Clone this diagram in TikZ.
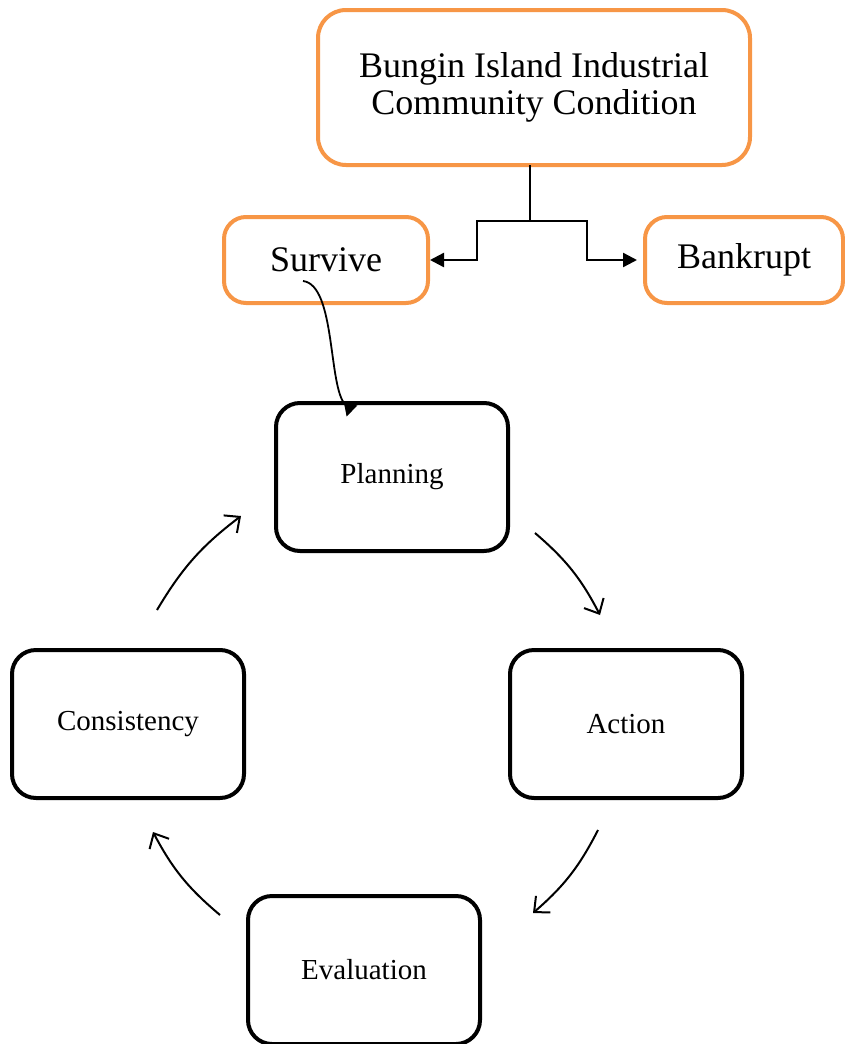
\documentclass[tikz,border=0pt]{standalone}
\usepackage{fontspec}
\setmainfont{Liberation Serif}
\usetikzlibrary{arrows.meta}
\definecolor{boxorange}{HTML}{F79646}
\begin{document}
\begin{tikzpicture}[x=1pt,y=-1pt,
  obox/.style={draw=boxorange,line width=4pt,rounded corners=22pt,fill=white,align=center,inner sep=0pt},
  kbox/.style={draw=black,line width=4pt,rounded corners=24pt,minimum width=232pt,minimum height=148pt,inner sep=0pt,font=\fontsize{29}{33}\selectfont},
  conn/.style={line width=2.4pt,-{Triangle[length=14pt,width=14pt]}},
  cyc/.style={line width=2pt,-{Straight Barb[length=12pt,width=22pt,line width=2pt]}}]
\useasboundingbox (0,0) rectangle (845,1044);
\clip (0,0) rectangle (845,1044);
\node[obox,minimum width=432pt,minimum height=155pt,rounded corners=28pt,font=\fontsize{36}{37}\selectfont] (top) at (534,87.5) {Bungin Island Industrial\\Community Condition};
\node[obox,minimum width=204pt,minimum height=86pt,font=\fontsize{36}{37}\selectfont] (survive) at (326,260) {Survive};
\node[obox,minimum width=198pt,minimum height=86pt,font=\fontsize{36}{37}\selectfont] (bankrupt) at (744,260) {Bankrupt};
\node[kbox] (planning) at (392,477) {Planning};
\node[kbox] (action) at (626,724) {Action};
\node[kbox] (consistency) at (128,724) {Consistency};
\node[kbox] (evaluation) at (364,970) {Evaluation};
% split connector
\coordinate (j) at (530,221);
\coordinate (jt) at (530,165);
\draw[line width=2pt] (jt) -- (j);
\draw[conn] (j) -- (477,221) |- (survive.east);
\draw[conn,shorten >=6pt] (j) -- (587,221) |- (bankrupt.west);
% survive to planning
\coordinate (s0) at (303,281);
\coordinate (s1) at (352,411);
\draw[line width=1.8pt,-{Triangle[reversed,length=11pt,width=15pt]}] (s0) .. controls (336,285) and (328,388) .. (s1);
% cycle
\coordinate (pa0) at (535,533); \coordinate (pa1) at (600,615);
\coordinate (ae0) at (598,830); \coordinate (ae1) at (533,913);
\coordinate (ec0) at (220,915); \coordinate (ec1) at (153,832);
\coordinate (cp0) at (157,610); \coordinate (cp1) at (241,516);
\draw[cyc] (pa0) to[bend left=11] (pa1);
\draw[cyc] (ae0) to[bend left=11] (ae1);
\draw[cyc] (ec0) to[bend left=11] (ec1);
\draw[cyc] (cp0) to[bend left=11] (cp1);
\end{tikzpicture}
\end{document}
